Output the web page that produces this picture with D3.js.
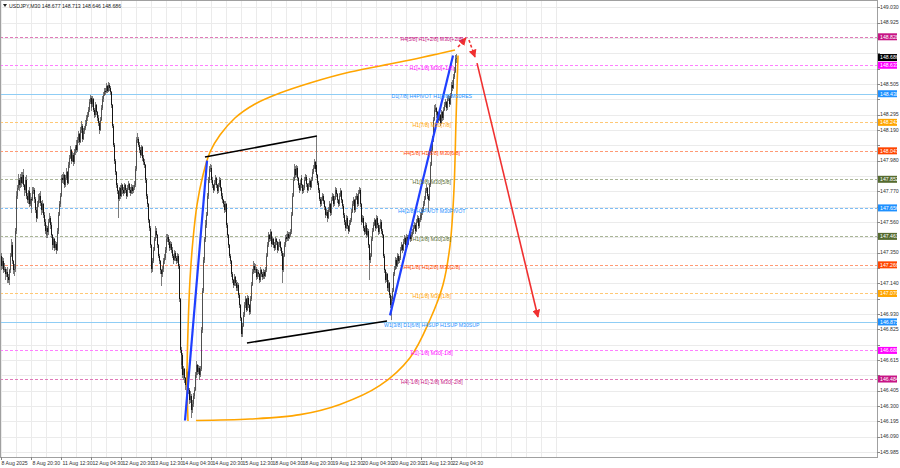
<!DOCTYPE html>
<html><head><meta charset="utf-8">
<script src="https://cdn.jsdelivr.net/npm/d3@7"></script>
<style>
html,body{margin:0;padding:0;background:#fff;}
svg{display:block;font-family:"Liberation Sans",Arial,sans-serif;}
</style></head><body>
<svg id="c" width="900" height="468"></svg>
<script>
// ---------------- DATA ----------------
const symbolTitle = "USDJPY,M30 148.677 148.713 148.646 148.686";
const firstBarTime = "2025-08-08 04:00";
const opens = [
147.33,147.31,147.26,147.29,147.23,147.24,147.20,147.22,147.18,147.16,
147.23,147.33,147.40,147.29,147.23,147.24,147.50,147.69,147.74,147.79,
147.85,147.81,147.87,147.83,147.88,147.81,147.78,147.85,147.74,147.71,
147.77,147.68,147.72,147.66,147.71,147.77,147.78,147.72,147.64,147.59,
147.68,147.71,147.74,147.69,147.64,147.68,147.61,147.56,147.50,147.47,
147.52,147.49,147.56,147.59,147.54,147.47,147.40,147.44,147.38,147.41,
147.37,147.50,147.61,147.68,147.74,147.81,147.86,147.85,147.88,147.81,
147.86,147.90,147.83,147.95,148.00,148.05,147.98,148.02,147.97,148.04,
148.07,148.09,148.05,148.12,148.16,148.11,148.19,148.22,148.13,148.18,
148.20,148.23,148.27,148.29,148.33,148.38,148.41,148.34,148.37,148.40,
148.33,148.29,148.36,148.31,148.27,148.24,148.19,148.26,148.34,148.40,
148.43,148.46,148.45,148.48,148.49,148.46,148.50,148.48,148.45,148.36,
148.22,148.09,147.98,147.90,147.81,147.77,147.72,147.79,147.74,147.78,
147.81,147.78,147.76,147.81,147.78,147.74,147.79,147.82,147.78,147.76,
147.80,147.77,147.79,147.81,147.92,148.05,148.12,148.13,148.09,148.05,
148.02,148.07,148.00,147.97,147.95,147.85,147.74,147.68,147.57,147.52,
147.40,147.30,147.24,147.29,147.37,147.44,147.50,147.47,147.40,147.33,
147.29,147.23,147.20,147.24,147.29,147.31,147.37,147.40,147.44,147.46,
147.42,147.38,147.41,147.37,147.33,147.30,147.35,147.31,147.29,147.33,
147.26,147.03,146.68,146.58,146.65,146.51,146.55,146.49,146.44,146.53,
146.48,146.41,146.34,146.37,146.27,146.31,146.37,146.41,146.51,146.55,
146.58,146.53,146.56,146.51,146.55,146.82,147.09,147.30,147.44,147.54,
147.61,147.74,147.85,147.92,147.93,147.90,147.85,147.81,147.78,147.83,
147.86,147.81,147.77,147.81,147.85,147.79,147.74,147.71,147.68,147.64,
147.68,147.61,147.54,147.47,147.40,147.33,147.29,147.20,147.16,147.13,
147.18,147.14,147.11,147.13,147.06,146.99,146.90,146.82,146.79,146.85,
146.92,146.99,147.03,146.96,147.04,146.99,146.94,147.03,147.13,147.22,
147.26,147.23,147.24,147.20,147.18,147.22,147.20,147.16,147.23,147.20,
147.18,147.22,147.19,147.23,147.33,147.40,147.47,147.44,147.49,147.45,
147.41,147.44,147.40,147.38,147.44,147.42,147.37,147.40,147.42,147.38,
147.35,147.23,147.33,147.40,147.45,147.46,147.44,147.48,147.45,147.47,
147.49,147.61,147.74,147.85,147.92,147.88,147.93,147.86,147.81,147.78,
147.83,147.86,147.81,147.77,147.79,147.85,147.87,147.82,147.78,147.81,
147.84,147.80,147.85,147.90,147.93,147.97,147.92,147.95,147.88,147.83,
147.78,147.72,147.68,147.71,147.74,147.70,147.66,147.61,147.63,147.59,
147.64,147.68,147.62,147.66,147.71,147.74,147.68,147.72,147.78,147.75,
147.71,147.68,147.74,147.77,147.71,147.67,147.61,147.56,147.52,147.54,
147.59,147.53,147.50,147.55,147.57,147.63,147.68,147.71,147.64,147.72,
147.74,147.68,147.76,147.78,147.68,147.61,147.56,147.59,147.52,147.49,
147.54,147.47,147.50,147.40,147.30,147.33,147.44,147.50,147.54,147.57,
147.52,147.56,147.59,147.54,147.49,147.52,147.56,147.50,147.47,147.33,
147.23,147.16,147.20,147.11,147.14,147.06,146.99,146.94,147.03,147.09,
147.20,147.24,147.30,147.26,147.33,147.29,147.31,147.37,147.40,147.37,
147.42,147.45,147.40,147.44,147.46,147.41,147.45,147.48,147.44,147.47,
147.49,147.52,147.54,147.50,147.56,147.59,147.53,147.57,147.61,147.59,
147.63,147.64,147.68,147.72,147.77,147.79,147.74,147.71,147.81,147.95,
148.05,148.12,148.26,148.33,148.34,148.29,148.31,148.27,148.26,148.29,
148.24,148.31,148.27,148.33,148.36,148.38,148.34,148.40,148.41,148.37,
148.42,148.45,148.50,148.48,148.55,148.59,148.677];
const highs = [
147.35,147.32,147.32,147.31,147.28,147.25,147.24,147.25,147.20,147.24,
147.35,147.44,147.42,147.30,147.27,147.52,147.71,147.77,147.81,147.89,
147.86,147.89,147.90,147.90,147.92,147.82,147.87,147.88,147.76,147.78,
147.80,147.76,147.73,147.73,147.80,147.80,147.79,147.73,147.66,147.70,
147.75,147.76,147.77,147.70,147.71,147.69,147.63,147.58,147.52,147.54,
147.53,147.58,147.62,147.60,147.56,147.48,147.46,147.45,147.43,147.42,
147.52,147.63,147.70,147.76,147.84,147.88,147.89,147.90,147.89,147.88,
147.93,147.91,147.97,148.02,148.08,148.06,148.04,148.03,148.06,148.09,
148.12,148.10,148.14,148.18,148.17,148.21,148.25,148.23,148.20,148.22,
148.26,148.29,148.31,148.35,148.40,148.43,148.42,148.39,148.42,148.41,
148.34,148.38,148.37,148.32,148.29,148.25,148.28,148.36,148.42,148.45,
148.48,148.48,148.50,148.51,148.50,148.52,148.51,148.49,148.46,148.37,
148.23,148.10,147.99,147.91,147.83,147.78,147.80,147.81,147.80,147.83,
147.82,147.80,147.83,147.82,147.79,147.81,147.84,147.83,147.80,147.82,
147.81,147.81,147.84,147.94,148.07,148.14,148.17,148.14,148.11,148.07,
148.09,148.08,148.02,147.99,147.96,147.86,147.75,147.69,147.58,147.53,
147.41,147.31,147.31,147.39,147.46,147.53,147.52,147.48,147.41,147.34,
147.30,147.24,147.26,147.31,147.34,147.39,147.42,147.48,147.48,147.47,
147.44,147.43,147.42,147.39,147.34,147.37,147.36,147.33,147.35,147.34,
147.27,147.04,146.70,146.68,146.66,146.57,146.56,146.50,146.55,146.54,
146.49,146.42,146.40,146.38,146.34,146.39,146.43,146.53,146.58,146.61,
146.59,146.58,146.57,146.57,146.84,147.11,147.32,147.46,147.57,147.63,
147.76,147.87,147.94,147.96,147.95,147.91,147.87,147.82,147.85,147.88,
147.87,147.82,147.83,147.87,147.86,147.80,147.76,147.72,147.70,147.70,
147.69,147.62,147.55,147.48,147.41,147.34,147.30,147.22,147.17,147.20,
147.19,147.16,147.15,147.14,147.07,147.00,146.91,146.84,146.87,146.94,
147.01,147.05,147.04,147.06,147.05,147.00,147.05,147.15,147.24,147.29,
147.28,147.27,147.25,147.22,147.24,147.23,147.21,147.25,147.24,147.22,
147.24,147.23,147.25,147.35,147.42,147.49,147.48,147.51,147.50,147.46,
147.46,147.45,147.42,147.46,147.45,147.43,147.42,147.44,147.43,147.39,
147.36,147.35,147.42,147.47,147.48,147.47,147.50,147.49,147.49,147.51,
147.63,147.76,147.87,147.96,147.94,147.95,147.94,147.87,147.83,147.85,
147.88,147.87,147.82,147.81,147.87,147.89,147.88,147.83,147.83,147.86,
147.85,147.87,147.92,147.95,147.99,147.98,147.97,148.14,147.89,147.84,
147.79,147.73,147.73,147.76,147.75,147.71,147.67,147.65,147.64,147.66,
147.70,147.69,147.68,147.73,147.76,147.75,147.74,147.80,147.79,147.76,
147.72,147.76,147.79,147.78,147.72,147.68,147.62,147.57,147.56,147.61,
147.60,147.54,147.57,147.59,147.65,147.70,147.73,147.72,147.74,147.76,
147.75,147.78,147.80,147.79,147.69,147.62,147.61,147.60,147.53,147.56,
147.55,147.52,147.51,147.41,147.35,147.46,147.52,147.56,147.59,147.58,
147.58,147.61,147.60,147.55,147.54,147.58,147.57,147.51,147.48,147.34,
147.24,147.22,147.21,147.16,147.15,147.07,147.00,147.05,147.11,147.22,
147.26,147.32,147.31,147.35,147.34,147.33,147.39,147.42,147.41,147.44,
147.47,147.46,147.46,147.48,147.47,147.47,147.50,147.49,147.49,147.51,
147.54,147.56,147.55,147.58,147.61,147.60,147.59,147.63,147.62,147.65,
147.66,147.70,147.74,147.79,147.82,147.80,147.75,147.83,147.97,148.07,
148.15,148.28,148.36,148.37,148.35,148.33,148.32,148.29,148.31,148.30,
148.33,148.32,148.35,148.38,148.40,148.39,148.42,148.43,148.42,148.44,
148.47,148.52,148.53,148.57,148.62,148.70,148.713];
const lows = [
147.30,147.23,147.24,147.21,147.22,147.16,147.18,147.14,147.14,147.13,
147.21,147.32,147.27,147.20,147.19,147.22,147.48,147.67,147.72,147.78,
147.77,147.79,147.80,147.82,147.80,147.74,147.76,147.72,147.69,147.68,
147.66,147.67,147.62,147.64,147.70,147.75,147.69,147.62,147.56,147.58,
147.66,147.69,147.67,147.61,147.62,147.59,147.53,147.48,147.45,147.46,
147.45,147.47,147.55,147.51,147.45,147.37,147.38,147.36,147.37,147.34,
147.36,147.48,147.60,147.66,147.73,147.79,147.83,147.82,147.79,147.80,
147.85,147.81,147.82,147.93,147.99,147.96,147.97,147.94,147.96,148.02,
148.05,148.03,148.04,148.10,148.09,148.10,148.17,148.11,148.12,148.16,
148.19,148.22,148.25,148.28,148.31,148.37,148.32,148.33,148.35,148.31,
148.27,148.28,148.29,148.25,148.22,148.16,148.18,148.25,148.33,148.38,
148.42,148.43,148.44,148.46,148.44,148.45,148.46,148.43,148.34,148.20,
148.07,147.96,147.88,147.79,147.75,147.59,147.70,147.72,147.73,147.76,
147.75,147.74,147.75,147.76,147.72,147.73,147.78,147.76,147.74,147.75,
147.75,147.76,147.78,147.80,147.91,148.04,148.10,148.07,148.03,148.00,
148.01,147.98,147.95,147.93,147.83,147.72,147.66,147.55,147.50,147.38,
147.28,147.21,147.22,147.28,147.36,147.43,147.45,147.38,147.31,147.27,
147.20,147.12,147.18,147.22,147.27,147.30,147.35,147.39,147.42,147.40,
147.36,147.37,147.35,147.31,147.27,147.29,147.29,147.27,147.28,147.24,
147.01,146.66,146.55,146.56,146.49,146.48,146.46,146.41,146.43,146.46,
146.38,146.31,146.32,146.22,146.25,146.29,146.35,146.40,146.49,146.53,
146.51,146.52,146.48,146.50,146.54,146.80,147.07,147.28,147.42,147.52,
147.60,147.72,147.83,147.90,147.88,147.83,147.79,147.76,147.77,147.81,
147.79,147.75,147.76,147.80,147.77,147.72,147.69,147.66,147.62,147.63,
147.59,147.52,147.45,147.38,147.31,147.27,147.18,147.14,147.11,147.12,
147.12,147.09,147.09,147.04,146.97,146.88,146.80,146.77,146.77,146.84,
146.91,146.97,146.94,146.95,146.97,146.92,146.93,147.02,147.12,147.20,
147.21,147.21,147.18,147.16,147.17,147.18,147.14,147.15,147.18,147.16,
147.17,147.17,147.18,147.22,147.32,147.39,147.42,147.43,147.43,147.39,
147.40,147.38,147.36,147.37,147.40,147.35,147.36,147.39,147.36,147.33,
147.14,147.22,147.32,147.39,147.43,147.42,147.43,147.43,147.44,147.46,
147.48,147.60,147.73,147.84,147.86,147.87,147.84,147.79,147.76,147.77,
147.82,147.79,147.75,147.76,147.78,147.84,147.80,147.76,147.77,147.80,
147.78,147.79,147.84,147.89,147.92,147.90,147.91,147.86,147.81,147.76,
147.70,147.66,147.67,147.70,147.68,147.64,147.59,147.60,147.56,147.58,
147.63,147.60,147.61,147.65,147.70,147.66,147.67,147.71,147.73,147.69,
147.66,147.67,147.73,147.69,147.65,147.59,147.54,147.50,147.51,147.53,
147.51,147.48,147.49,147.54,147.56,147.62,147.67,147.62,147.63,147.71,
147.66,147.67,147.75,147.66,147.59,147.54,147.55,147.50,147.47,147.48,
147.45,147.46,147.38,147.16,147.28,147.32,147.43,147.49,147.53,147.50,
147.51,147.55,147.52,147.47,147.48,147.51,147.48,147.45,147.31,147.21,
147.14,147.15,147.09,147.08,147.04,146.97,146.89,146.93,147.02,147.08,
147.19,147.23,147.24,147.25,147.27,147.28,147.30,147.36,147.35,147.36,
147.41,147.38,147.39,147.43,147.39,147.40,147.44,147.42,147.43,147.46,
147.48,147.51,147.48,147.49,147.55,147.51,147.52,147.56,147.57,147.58,
147.61,147.63,147.67,147.71,147.76,147.72,147.63,147.70,147.80,147.94,
148.04,148.11,148.25,148.31,148.27,148.28,148.25,148.24,148.25,148.22,
148.23,148.25,148.26,148.32,148.35,148.32,148.33,148.39,148.35,148.36,
148.41,148.44,148.46,148.47,148.54,148.58,148.646];
const closes = [
147.31,147.26,147.29,147.23,147.24,147.20,147.22,147.18,147.16,147.23,
147.33,147.40,147.29,147.23,147.24,147.50,147.69,147.74,147.79,147.85,
147.81,147.87,147.83,147.88,147.81,147.78,147.85,147.74,147.71,147.77,
147.68,147.72,147.66,147.71,147.77,147.78,147.72,147.64,147.59,147.68,
147.71,147.74,147.69,147.64,147.68,147.61,147.56,147.50,147.47,147.52,
147.49,147.56,147.59,147.54,147.47,147.40,147.44,147.38,147.41,147.37,
147.50,147.61,147.68,147.74,147.81,147.86,147.85,147.88,147.81,147.86,
147.90,147.83,147.95,148.00,148.05,147.98,148.02,147.97,148.04,148.07,
148.09,148.05,148.12,148.16,148.11,148.19,148.22,148.13,148.18,148.20,
148.23,148.27,148.29,148.33,148.38,148.41,148.34,148.37,148.40,148.33,
148.29,148.36,148.31,148.27,148.24,148.19,148.26,148.34,148.40,148.43,
148.46,148.45,148.48,148.49,148.46,148.50,148.48,148.45,148.36,148.22,
148.09,147.98,147.90,147.81,147.77,147.72,147.79,147.74,147.78,147.81,
147.78,147.76,147.81,147.78,147.74,147.79,147.82,147.78,147.76,147.80,
147.77,147.79,147.81,147.92,148.05,148.12,148.13,148.09,148.05,148.02,
148.07,148.00,147.97,147.95,147.85,147.74,147.68,147.57,147.52,147.40,
147.30,147.24,147.29,147.37,147.44,147.50,147.47,147.40,147.33,147.29,
147.23,147.20,147.24,147.29,147.31,147.37,147.40,147.44,147.46,147.42,
147.38,147.41,147.37,147.33,147.30,147.35,147.31,147.29,147.33,147.26,
147.03,146.68,146.58,146.65,146.51,146.55,146.49,146.44,146.53,146.48,
146.41,146.34,146.37,146.27,146.31,146.37,146.41,146.51,146.55,146.58,
146.53,146.56,146.51,146.55,146.82,147.09,147.30,147.44,147.54,147.61,
147.74,147.85,147.92,147.93,147.90,147.85,147.81,147.78,147.83,147.86,
147.81,147.77,147.81,147.85,147.79,147.74,147.71,147.68,147.64,147.68,
147.61,147.54,147.47,147.40,147.33,147.29,147.20,147.16,147.13,147.18,
147.14,147.11,147.13,147.06,146.99,146.90,146.82,146.79,146.85,146.92,
146.99,147.03,146.96,147.04,146.99,146.94,147.03,147.13,147.22,147.26,
147.23,147.24,147.20,147.18,147.22,147.20,147.16,147.23,147.20,147.18,
147.22,147.19,147.23,147.33,147.40,147.47,147.44,147.49,147.45,147.41,
147.44,147.40,147.38,147.44,147.42,147.37,147.40,147.42,147.38,147.35,
147.23,147.33,147.40,147.45,147.46,147.44,147.48,147.45,147.47,147.49,
147.61,147.74,147.85,147.92,147.88,147.93,147.86,147.81,147.78,147.83,
147.86,147.81,147.77,147.79,147.85,147.87,147.82,147.78,147.81,147.84,
147.80,147.85,147.90,147.93,147.97,147.92,147.95,147.88,147.83,147.78,
147.72,147.68,147.71,147.74,147.70,147.66,147.61,147.63,147.59,147.64,
147.68,147.62,147.66,147.71,147.74,147.68,147.72,147.78,147.75,147.71,
147.68,147.74,147.77,147.71,147.67,147.61,147.56,147.52,147.54,147.59,
147.53,147.50,147.55,147.57,147.63,147.68,147.71,147.64,147.72,147.74,
147.68,147.76,147.78,147.68,147.61,147.56,147.59,147.52,147.49,147.54,
147.47,147.50,147.40,147.30,147.33,147.44,147.50,147.54,147.57,147.52,
147.56,147.59,147.54,147.49,147.52,147.56,147.50,147.47,147.33,147.23,
147.16,147.20,147.11,147.14,147.06,146.99,146.94,147.03,147.09,147.20,
147.24,147.30,147.26,147.33,147.29,147.31,147.37,147.40,147.37,147.42,
147.45,147.40,147.44,147.46,147.41,147.45,147.48,147.44,147.47,147.49,
147.52,147.54,147.50,147.56,147.59,147.53,147.57,147.61,147.59,147.63,
147.64,147.68,147.72,147.77,147.79,147.74,147.71,147.81,147.95,148.05,
148.12,148.26,148.33,148.34,148.29,148.31,148.27,148.26,148.29,148.24,
148.31,148.27,148.33,148.36,148.38,148.34,148.40,148.41,148.37,148.42,
148.45,148.50,148.48,148.55,148.59,148.677,148.686];

const priceTicks = [149.030,148.925,148.820,148.715,148.610,148.505,148.400,148.295,148.190,148.085,
  147.980,147.875,147.770,147.665,147.560,147.455,147.350,147.245,147.140,147.035,
  146.930,146.825,146.720,146.615,146.510,146.405,146.300,146.195,146.090,145.985];
const timeTickTimes = ["2025-08-08 04:00","2025-08-08 20:30","2025-08-11 12:30","2025-08-12 04:30","2025-08-12 20:30",
  "2025-08-13 12:30","2025-08-14 04:30","2025-08-14 20:30","2025-08-15 12:30","2025-08-18 04:30","2025-08-18 20:30",
  "2025-08-19 12:30","2025-08-20 04:30","2025-08-20 20:30","2025-08-21 12:30","2025-08-22 04:30"];
const timeTickLabels = ["8 Aug 2025","8 Aug 20:30","11 Aug 12:30","12 Aug 04:30","12 Aug 20:30","13 Aug 12:30",
  "14 Aug 04:30","14 Aug 20:30","15 Aug 12:30","18 Aug 04:30","18 Aug 20:30","19 Aug 12:30","20 Aug 04:30",
  "20 Aug 20:30","21 Aug 12:30","22 Aug 04:30"];

const levelPrices = [148.828,148.633,148.438,148.242,148.047,147.852,147.656,147.461,147.266,147.070,146.875,146.680,146.484];
const levelLabels = ["H4[5/8] H1[+2/8] M30[+2/8]","H1[+1/8] M30[+1/8]","D1[7/8] H4PIVOT H1[8/8] M30RES",
  "H1[7/8] M30[7/8]","H4[5/8] H1[6/8] M30[6/8]","H1[5/8] M30[5/8]","H4[2/8] H1PIVOT M30PIVOT",
  "H1[3/8] M30[3/8]","H4[1/8] H1[2/8] M30[2/8]","H1[1/8] M30[1/8]","W1[3/8] D1[6/8] H4SUP H1SUP M30SUP",
  "H1[-1/8] M30[-1/8]","H4[-1/8] H1[-2/8] M30[-2/8]"];
const currentPrice = 148.686;

// drawn objects, in (bar index, price)
const arcUpper = [[200.0,146.196],[198.9,146.477],[200.0,146.820],[202.1,147.162],[205.3,147.436],[209.6,147.676],
  [216.0,147.881],[223.5,148.039],[234.1,148.155],[250.1,148.272],[271.5,148.368],[298.1,148.443],[330.1,148.512],
  [372.8,148.587],[426.1,148.655],[484.8,148.738]];
const arcLower = [[208.5,146.20],[266.1,146.21],[319.5,146.24],[362.1,146.31],[404.8,146.44],[436.8,146.63],
  [458.1,146.89],[472,147.13],[479.5,147.40],[483.7,147.78],[485.9,148.26],[488,148.70]];
const blueLines = [[[196.8,146.20],[220.3,147.98]], [[415.5,146.92],[482.7,148.70]]];
const blackLines = [[[218.1,148.005],[337.6,148.148]], [[262.9,146.731],[412.3,146.881]]];
const redDashed = [[[488,148.758],[496.5,148.82]], [[499.7,148.806],[506.1,148.69]]];
const redSolid = [[508.3,148.648],[573.3,146.909]];

// ---------------- STYLE ----------------
const levelColors = ["#c71585","#ff00ff","#1e90ff","#ffa500","#ff4500","#556b2f","#1e90ff","#556b2f","#ff4500","#ffa500","#1e90ff","#ff00ff","#c71585"];
const levelLineColors = ["#e07ab8","#ff7fff","#8fcdf5","#ffc875","#ff9a75","#a9b596","#7dbdf5","#a9b596","#ff9a75","#ffc875","#8fcdf5","#ff7fff","#e07ab8"];
const levelDash = ["3,2","3,2",null,"3,2","3,2","3,2","3,2","3,2","3,2","3,2",null,"3,2","3,2"];

// ---------------- CHART ----------------
const svg = d3.select("#c");
const PR = 877, PB = 457;
const n = Math.min(opens.length, highs.length, lows.length, closes.length);
const x = d3.scaleLinear().domain([0, 32]).range([0.5, 30.5]);
const y = d3.scaleLinear().domain([145.95, 149.08]).range([PB, 0]);

// bar times (M30, weekend skipped)
const parseT = d3.utcParse("%Y-%m-%d %H:%M");
const times = [];
let t = parseT(firstBarTime);
for (let i = 0; i < n + 200; i++) {
  times.push(+t);
  t = new Date(+t + 30 * 60000);
  if (t.getUTCDay() === 6) t = new Date(+t + 2 * 86400000);
}
const idxOf = s => times.indexOf(+parseT(s));
const tickIdx = timeTickTimes.map(idxOf);

svg.append("rect").attr("width", 900).attr("height", 468).attr("fill", "#fff");
const plot = svg.append("g");
plot.append("defs").append("clipPath").attr("id", "pc").append("rect").attr("x", 0).attr("y", 0).attr("width", PR).attr("height", PB);

// grid
const grid = plot.append("g").attr("stroke", "#ebebeb").attr("stroke-width", 1).attr("shape-rendering", "crispEdges");
const gridIdx = d3.range(tickIdx[1] % 16, n + 120, 16);
grid.selectAll("line.v").data(gridIdx).join("line")
  .attr("x1", d => Math.round(x(d)) + 0.5).attr("x2", d => Math.round(x(d)) + 0.5).attr("y1", 0).attr("y2", PB);
grid.selectAll("line.h").data(priceTicks).join("line")
  .attr("x1", 0).attr("x2", PR).attr("y1", d => Math.round(y(d)) + 0.5).attr("y2", d => Math.round(y(d)) + 0.5);

// level lines
const lv = plot.append("g").attr("clip-path", "url(#pc)");
lv.selectAll("line").data(levelPrices).join("line")
  .attr("x1", 0).attr("x2", PR)
  .attr("y1", d => Math.round(y(d)) + 0.5).attr("y2", d => Math.round(y(d)) + 0.5)
  .attr("stroke", (d, i) => levelLineColors[i]).attr("stroke-width", 1)
  .attr("stroke-dasharray", (d, i) => levelDash[i]);

// candles
const cg = plot.append("g").attr("shape-rendering", "crispEdges");
const bars = d3.range(n);
cg.selectAll("line.w").data(bars).join("line")
  .attr("x1", i => Math.round(x(i)) + 0.5).attr("x2", i => Math.round(x(i)) + 0.5)
  .attr("y1", i => y(highs[i])).attr("y2", i => y(lows[i]))
  .attr("stroke", "#7a7a7a").attr("stroke-width", 1);
cg.selectAll("rect.b").data(bars).join("rect")
  .attr("x", i => Math.round(x(i)))
  .attr("width", 1)
  .attr("y", i => y(Math.max(opens[i], closes[i])))
  .attr("height", i => Math.max(1, Math.abs(y(opens[i]) - y(closes[i]))))
  .attr("fill", i => closes[i] >= opens[i] ? "#505050" : "#151515");

// objects
const sl = d3.line().x(d => x(d[0])).y(d => y(d[1]));
const cl = d3.line().x(d => x(d[0])).y(d => y(d[1])).curve(d3.curveCatmullRom.alpha(0.5));
const og = plot.append("g").attr("fill", "none");
og.selectAll("path.arc").data([arcUpper, arcLower]).join("path").attr("d", cl)
  .attr("stroke", "#ffa500").attr("stroke-width", 1.6);
og.selectAll("path.bl").data(blueLines).join("path").attr("d", sl).attr("stroke", "#1f3fff").attr("stroke-width", 2.2);
og.selectAll("path.k").data(blackLines).join("path").attr("d", sl).attr("stroke", "#000").attr("stroke-width", 1.6);

const defs = svg.append("defs");
defs.append("marker").attr("id", "ah").attr("viewBox", "0 0 10 10").attr("refX", 9).attr("refY", 5)
  .attr("markerUnits", "userSpaceOnUse").attr("markerWidth", 8).attr("markerHeight", 8).attr("orient", "auto")
  .append("path").attr("d", "M0,0 L10,5 L0,10 z").attr("fill", "#f03030");
og.selectAll("path.rd").data(redDashed).join("path").attr("d", sl).attr("stroke", "#f03030")
  .attr("stroke-width", 1.6).attr("stroke-dasharray", "3,2").attr("marker-end", "url(#ah)");
og.append("path").datum(redSolid).attr("d", sl).attr("stroke", "#f03030").attr("stroke-width", 1.6).attr("marker-end", "url(#ah)");

// level labels (just below each level line)
const labelBar = 460;
plot.append("g").selectAll("text").data(levelPrices).join("text")
  .attr("x", x(labelBar)).attr("y", d => y(d) + 4.6)
  .attr("text-anchor", "middle").attr("font-size", 5.2)
  .attr("fill", (d, i) => levelColors[i]).text((d, i) => levelLabels[i]);

// frame
svg.append("g").attr("stroke", "#a0a0a0").attr("shape-rendering", "crispEdges").call(g => {
  g.append("line").attr("x1", PR + 0.5).attr("x2", PR + 0.5).attr("y1", 0).attr("y2", PB + 0.5);
  g.append("line").attr("x1", 0).attr("x2", PR + 0.5).attr("y1", PB + 0.5).attr("y2", PB + 0.5);
  g.append("line").attr("x1", 0.5).attr("x2", 0.5).attr("y1", 0).attr("y2", PB);
  g.append("line").attr("x1", 0).attr("x2", PR).attr("y1", 0.5).attr("y2", 0.5);
});

// price boxes (level tags + current price)
const boxes = levelPrices.map((p, i) => ({p, c: levelColors[i]}));
boxes.push({p: currentPrice, c: "#000"});

// right axis: tick labels that are not covered by a tag
const visibleTicks = priceTicks.filter(p => boxes.every(b => Math.abs(y(b.p) - y(p)) > 6));
const ra = svg.append("g").attr("font-size", 5.2).attr("fill", "#333");
ra.selectAll("line").data(priceTicks).join("line")
  .attr("x1", PR).attr("x2", PR + 3).attr("y1", d => Math.round(y(d)) + 0.5).attr("y2", d => Math.round(y(d)) + 0.5)
  .attr("stroke", "#888");
ra.selectAll("text").data(visibleTicks).join("text")
  .attr("x", 880).attr("y", d => y(d)).attr("dy", "0.35em").text(d => d3.format(".3f")(d));

const bx = svg.append("g");
bx.selectAll("rect").data(boxes).join("rect")
  .attr("x", 878).attr("width", 19).attr("y", d => y(d.p) - 3.5).attr("height", 7).attr("fill", d => d.c);
bx.selectAll("text").data(boxes).join("text")
  .attr("x", 880).attr("y", d => y(d.p)).attr("dy", "0.35em").attr("font-size", 5.2).attr("fill", "#fff")
  .text(d => d3.format(".3f")(d.p));

// bottom axis
const ba = svg.append("g").attr("font-size", 5.2).attr("fill", "#333");
ba.selectAll("line").data(tickIdx).join("line")
  .attr("x1", d => Math.round(x(d)) + 0.5).attr("x2", d => Math.round(x(d)) + 0.5)
  .attr("y1", PB).attr("y2", PB + 3).attr("stroke", "#888");
ba.selectAll("text").data(tickIdx).join("text")
  .attr("x", d => x(d) + 1).attr("y", 465).text((d, i) => timeTickLabels[i]);

// title
svg.append("path").attr("d", "M3,4 L7,4 L5,7 z").attr("fill", "#222");
svg.append("text").attr("x", 9).attr("y", 6).attr("dy", "0.35em").attr("font-size", 5.2).attr("fill", "#222").text(symbolTitle);
</script>
</body></html>
